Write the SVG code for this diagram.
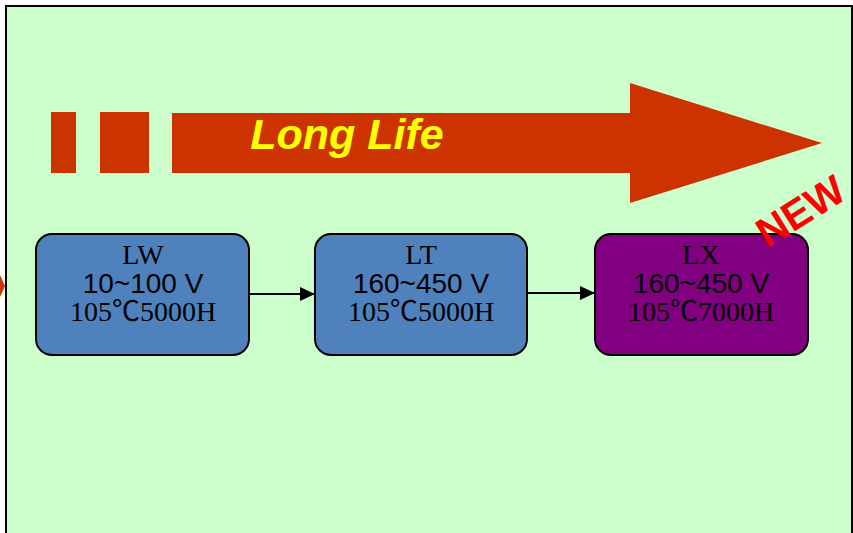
<svg xmlns="http://www.w3.org/2000/svg" width="853" height="533" viewBox="0 0 853 533">
<defs>
<style>
.node{stroke:#000;stroke-width:2}
.t1{font-family:"Liberation Serif","Noto Sans CJK SC",serif;font-size:28px;fill:#000;text-anchor:middle}
.t2{font-family:"Liberation Sans",sans-serif;font-size:28px;fill:#000;text-anchor:middle}
.red{fill:#CC3300}
.edge{stroke:#000;stroke-width:2;fill:none;marker-end:url(#ah)}
</style>
<marker id="ah" viewBox="0 0 15 14" refX="15" refY="7" markerWidth="15" markerHeight="14" markerUnits="userSpaceOnUse" orient="auto">
<path d="M0,0 L15,7 L0,14 z" fill="#000"/>
</marker>
</defs>
<rect x="0" y="0" width="853" height="533" fill="#fff"/>
<rect x="6" y="6" width="846" height="540" fill="#CCFFCC" stroke="#000" stroke-width="2"/>
<polygon class="red" points="0,275 5,286 0,297"/>
<g id="banner">
<rect class="red" x="51" y="112" width="25" height="61"/>
<rect class="red" x="100" y="112" width="49" height="61"/>
<polygon class="red" points="172,113 630,113 630,83 822,143 630,203 630,173 172,173"/>
<text x="347" y="149" font-family="Liberation Sans, sans-serif" font-size="43" font-weight="bold" font-style="italic" fill="#FFFF00" text-anchor="middle">Long Life</text>
</g>
<g id="connectors">
<line class="edge" x1="250" y1="294" x2="315" y2="294"/>
<line class="edge" x1="527" y1="293" x2="595" y2="293"/>
</g>
<g id="LW">
<rect class="node" x="36" y="234" width="213" height="121" rx="16" fill="#4F81BD"/>
<text class="t1" x="143" y="264">LW</text>
<text class="t2" x="143" y="293">10~100 V</text>
<text class="t1" x="143" y="321">105℃5000H</text>
</g>
<g id="LT">
<rect class="node" x="315" y="234" width="212" height="121" rx="16" fill="#4F81BD"/>
<text class="t1" x="421" y="264">LT</text>
<text class="t2" x="421" y="293">160~450 V</text>
<text class="t1" x="421" y="321">105℃5000H</text>
</g>
<g id="LX">
<rect class="node" x="595" y="234" width="213" height="121" rx="16" fill="#800080"/>
<text class="t1" x="701" y="264">LX</text>
<text class="t2" x="701" y="293">160~450 V</text>
<text class="t1" x="701" y="321">105℃7000H</text>
</g>
<text x="0" y="0" transform="translate(808,223) rotate(-32)" font-family="Liberation Sans, sans-serif" font-size="41" font-weight="bold" fill="#FF0000" text-anchor="middle">NEW</text>
</svg>
